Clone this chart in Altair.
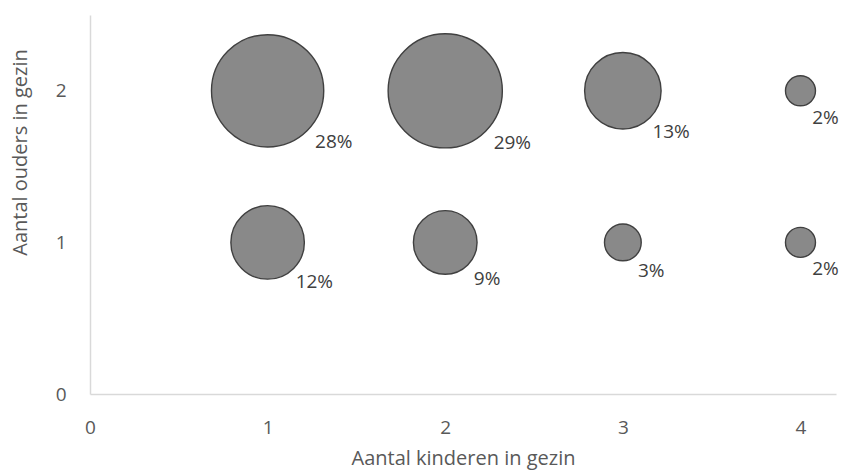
import altair as alt
import pandas as pd

# Household composition: number of children vs number of parents, share of households
kinderen = [1, 2, 3, 4, 1, 2, 3, 4]
ouders = [2, 2, 2, 2, 1, 1, 1, 1]
aandeel = [28, 29, 13, 2, 12, 9, 3, 2]

df = pd.DataFrame({"kinderen": kinderen, "ouders": ouders, "aandeel": aandeel})
df["label"] = [f"{v}%" for v in aandeel]

FONT = "Open Sans"
W, H = 746, 379
X_MAX, Y_MAX = 4.2, 2.5
PX_X = W / X_MAX
PX_Y = H / Y_MAX
SIZE_PER_PCT = 450  # symbol size (squared diameter, px^2) per percent

x_scale = alt.Scale(domain=[0, X_MAX], nice=False, zero=True)
y_scale = alt.Scale(domain=[0, Y_MAX], nice=False, zero=True)

base = alt.Chart(df)

bubbles = base.mark_circle(
    opacity=1, color="#898989", stroke="#404040", strokeWidth=1.4
).encode(
    x=alt.X(
        "kinderen:Q",
        scale=x_scale,
        title="Aantal kinderen in gezin",
        axis=alt.Axis(
            values=[0, 1, 2, 3, 4], format="d", grid=False, ticks=False,
            domainColor="#d9d9d9", domainWidth=1.5, labelFlush=False,
            labelFont=FONT, labelFontSize=19, labelColor="#595959",
            labelPadding=24,
            titleFont=FONT, titleFontSize=20, titleFontWeight="normal",
            titleColor="#595959", titleY=54,
        ),
    ),
    y=alt.Y(
        "ouders:Q",
        scale=y_scale,
        title="Aantal ouders in gezin",
        axis=alt.Axis(
            values=[0, 1, 2], format="d", grid=False, ticks=False,
            domainColor="#d9d9d9", domainWidth=1.5, labelFlush=False,
            labelFont=FONT, labelFontSize=19, labelColor="#595959",
            labelPadding=24,
            titleFont=FONT, titleFontSize=20, titleFontWeight="normal",
            titleColor="#595959", titleX=-70, titleY=137,
            titleAlign="center", titleBaseline="middle",
        ),
    ),
    size=alt.Size(
        "aandeel:Q",
        scale=alt.Scale(domain=[0, 29], range=[0, 29 * SIZE_PER_PCT], nice=False),
        legend=None,
    ),
)

# percentage labels sit just below-right of each bubble
labels = base.transform_calculate(
    r=f"sqrt(datum.aandeel * {SIZE_PER_PCT}) / 2"
).transform_calculate(
    lx=f"datum.kinderen + (datum.r + 10) / {PX_X}",
    ly=f"datum.ouders - (0.6 * datum.r + 18) / {PX_Y}",
).mark_text(
    font=FONT, fontSize=19, color="#404040", align="center", baseline="middle"
).encode(
    x=alt.X("lx:Q", scale=x_scale),
    y=alt.Y("ly:Q", scale=y_scale),
    text="label:N",
)

chart = (
    alt.layer(bubbles, labels)
    .properties(
        width=W,
        height=H,
        view=alt.ViewBackground(strokeWidth=0, strokeOpacity=0),
        autosize=alt.AutoSizeParams(type="none"),
        padding={"left": 90, "top": 15, "right": 9, "bottom": 80},
    )
    .configure_view(strokeWidth=0, strokeOpacity=0)
    .configure(background="white")
)

chart.save("out.html", embed_options={"renderer": "svg", "actions": False})
